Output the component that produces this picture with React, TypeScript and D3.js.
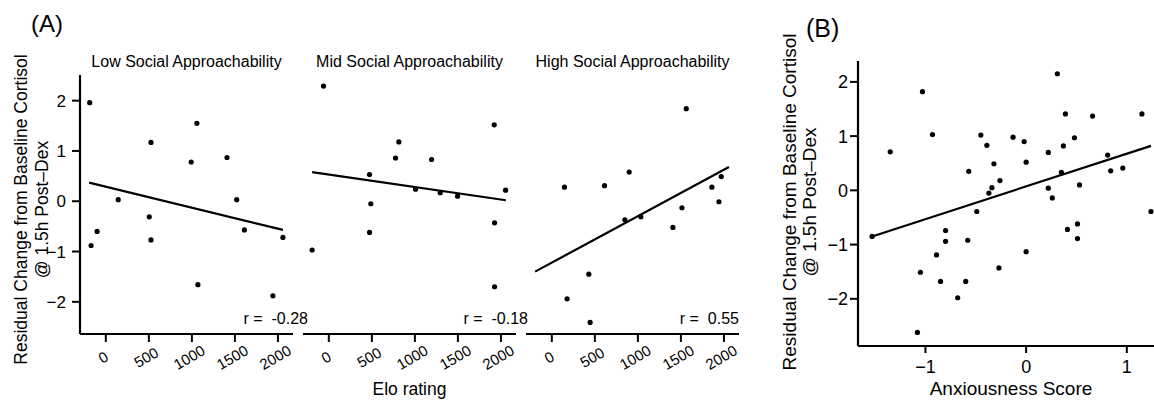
import * as d3 from "d3";

// ---- data ----
const eloTicks = [0, 500, 1000, 1500, 2000];
const residTicks = [-2, -1, 0, 1, 2];
const anxTicks = [-1, 0, 1];

const facetTitles = ["Low Social Approachability", "Mid Social Approachability", "High Social Approachability"];
const facetR = ["-0.28", "-0.18", "0.55"];

const lowElo = [-187, -171, -101, 144, 505, 525, 525, 992, 1058, 1070, 1408, 1521, 1610, 1941, 2058];
const lowResid = [1.96, -0.88, -0.6, 0.03, -0.31, 1.17, -0.77, 0.78, 1.55, -1.66, 0.87, 0.03, -0.57, -1.88, -0.72];

const midElo = [-62, -194, 473, 488, 473, 775, 814, 1194, 1008, 1294, 1496, 1922, 1926, 1926, 2054];
const midResid = [2.29, -0.97, 0.53, -0.05, -0.62, 0.86, 1.18, 0.83, 0.24, 0.17, 0.1, 1.52, -0.43, -1.7, 0.22];

const highElo = [147, 178, 430, 445, 612, 849, 899, 1035, 1407, 1512, 1562, 1860, 1942, 1969];
const highResid = [0.28, -1.94, -1.45, -2.41, 0.31, -0.37, 0.58, -0.31, -0.52, -0.13, 1.84, 0.28, -0.01, 0.49];

// fitted line: residual at the lowest and highest Elo rating
const lowFit = [0.37, -0.57];
const midFit = [0.58, 0.02];
const highFit = [-1.4, 0.68];

const anxScore = [-1.53, -1.35, -1.08, -1.05, -1.03, -0.93, -0.89, -0.85, -0.8, -0.8, -0.68, -0.6, -0.58, -0.57, -0.49,
  -0.45, -0.39, -0.37, -0.34, -0.32, -0.27, -0.26, -0.13, -0.02, 0.0, 0.0, 0.22, 0.22, 0.26, 0.31, 0.35, 0.37, 0.39,
  0.41, 0.48, 0.51, 0.51, 0.53, 0.66, 0.81, 0.84, 0.96, 1.15, 1.24];
const anxResid = [-0.85, 0.71, -2.62, -1.51, 1.82, 1.03, -1.19, -1.68, -0.74, -0.94, -1.98, -1.68, -0.92, 0.35, -0.39,
  1.02, 0.83, -0.05, 0.05, 0.49, -1.43, 0.18, 0.98, 0.9, 0.52, -1.13, 0.7, 0.04, -0.14, 2.15, 0.33, 0.82, 1.41,
  -0.72, 0.97, -0.62, -0.89, 0.1, 1.37, 0.65, 0.36, 0.41, 1.41, -0.39];
const anxFit = [-0.85, 0.82];

// ---- layout ----
const W = 1154;
const H = 401;
const FONT = "'Liberation Sans', Arial, Helvetica, sans-serif";
const INK = "#000";

const facetLefts = [80, 303, 526];
const facetW = 213;
const aTop = 75;
const aBottom = 334;
const rShift = [15, 12, 0];

const bLeft = 858;
const bTop = 61;
const bBottom = 346;

const facets = [
  { title: facetTitles[0], x: lowElo, y: lowResid, fit: lowFit, r: facetR[0] },
  { title: facetTitles[1], x: midElo, y: midResid, fit: midFit, r: facetR[1] },
  { title: facetTitles[2], x: highElo, y: highResid, fit: highFit, r: facetR[2] },
];

const eloExtent = d3.extent([...lowElo, ...midElo, ...highElo]) as [number, number];
const fmt = d3.format("d");

const yA = d3.scaleLinear().domain([-2.64, 2.51]).range([aBottom, aTop]);
const xB = d3.scaleLinear().domain([-1.67, 1.27]).range([bLeft, W]);
const yB = d3.scaleLinear().domain([-2.87, 2.385]).range([bBottom, bTop]);

const Facet = ({ f, i }: { f: any; i: number }) => {
  const left = facetLefts[i];
  const x = d3.scaleLinear().domain([-300, 2175]).range([left, left + facetW]);
  const line = d3.line<[number, number]>().x((d) => x(d[0])).y((d) => yA(d[1]));
  const fitPts: [number, number][] = [[eloExtent[0], f.fit[0]], [eloExtent[1], f.fit[1]]];
  return (
    <g>
      <text x={left + facetW / 2} y={66.5} textAnchor="middle" fontSize={16}>{f.title}</text>
      <line x1={left} x2={left + facetW} y1={aBottom} y2={aBottom} stroke={INK} strokeWidth={2.2} />
      {eloTicks.map((t) => (
        <g key={t}>
          <line x1={x(t)} x2={x(t)} y1={aBottom} y2={aBottom + 8} stroke={INK} strokeWidth={2} />
          <text transform={`translate(${x(t)},${aBottom + 28}) rotate(-30)`} textAnchor="middle" fontSize={15}>{fmt(t)}</text>
        </g>
      ))}
      {f.x.map((v: number, j: number) => (
        <circle key={j} cx={x(v)} cy={yA(f.y[j])} r={2.6} fill={INK} />
      ))}
      <path d={line(fitPts) ?? ""} fill="none" stroke={INK} strokeWidth={2.2} />
      <text x={left + facetW + rShift[i]} y={aBottom - 10} textAnchor="end" fontSize={16} style={{ whiteSpace: "pre" }}>{`r =  ${f.r}`}</text>
    </g>
  );
};

export default function App() {
  const lineB = d3.line<[number, number]>().x((d) => xB(d[0])).y((d) => yB(d[1]));
  const anxExtent = d3.extent(anxScore) as [number, number];
  const fitB: [number, number][] = [[anxExtent[0], anxFit[0]], [anxExtent[1], anxFit[1]]];
  const yMidA = (aTop + aBottom) / 2 + 5;
  const yMidB = 202;
  return (
    <svg width={W} height={H} style={{ position: "absolute", left: 0, top: 0, background: "#fff" }} fontFamily={FONT} fill={INK}>
      {/* panel A */}
      <text x={31} y={32} fontSize={24}>(A)</text>
      <text transform={`translate(27,${yMidA}) rotate(-90)`} textAnchor="middle" fontSize={17.5}>Residual Change from Baseline Cortisol</text>
      <text transform={`translate(48,${yMidA}) rotate(-90)`} textAnchor="middle" fontSize={17.5}>@ 1.5h Post–Dex</text>
      <line x1={facetLefts[0]} x2={facetLefts[0]} y1={aTop} y2={aBottom} stroke={INK} strokeWidth={2.2} />
      {residTicks.map((t) => (
        <g key={t}>
          <line x1={facetLefts[0] - 8} x2={facetLefts[0]} y1={yA(t)} y2={yA(t)} stroke={INK} strokeWidth={2} />
          <text x={facetLefts[0] - 14} y={yA(t)} dy="0.36em" textAnchor="end" fontSize={17}>{fmt(t)}</text>
        </g>
      ))}
      {facets.map((f, i) => <Facet key={i} f={f} i={i} />)}
      <text x={facetLefts[1] + facetW / 2} y={395} textAnchor="middle" fontSize={17.5}>Elo rating</text>

      {/* panel B */}
      <text x={806} y={37} fontSize={25}>(B)</text>
      <text transform={`translate(796,${yMidB}) rotate(-90)`} textAnchor="middle" fontSize={19}>Residual Change from Baseline Cortisol</text>
      <text transform={`translate(816,${yMidB}) rotate(-90)`} textAnchor="middle" fontSize={19}>@ 1.5h Post–Dex</text>
      <line x1={bLeft} x2={bLeft} y1={bTop} y2={bBottom} stroke={INK} strokeWidth={2.2} />
      <line x1={bLeft} x2={W} y1={bBottom} y2={bBottom} stroke={INK} strokeWidth={2.2} />
      {residTicks.map((t) => (
        <g key={t}>
          <line x1={bLeft - 8} x2={bLeft} y1={yB(t)} y2={yB(t)} stroke={INK} strokeWidth={2} />
          <text x={bLeft - 10} y={yB(t)} dy="0.36em" textAnchor="end" fontSize={18}>{fmt(t)}</text>
        </g>
      ))}
      {anxTicks.map((t) => (
        <g key={t}>
          <line x1={xB(t)} x2={xB(t)} y1={bBottom} y2={bBottom + 7} stroke={INK} strokeWidth={2} />
          <text x={xB(t)} y={373} textAnchor="middle" fontSize={18}>{fmt(t)}</text>
        </g>
      ))}
      {anxScore.map((v, j) => (
        <circle key={j} cx={xB(v)} cy={yB(anxResid[j])} r={2.6} fill={INK} />
      ))}
      <path d={lineB(fitB) ?? ""} fill="none" stroke={INK} strokeWidth={2.2} />
      <text x={1011} y={395} textAnchor="middle" fontSize={19}>Anxiousness Score</text>
    </svg>
  );
}
